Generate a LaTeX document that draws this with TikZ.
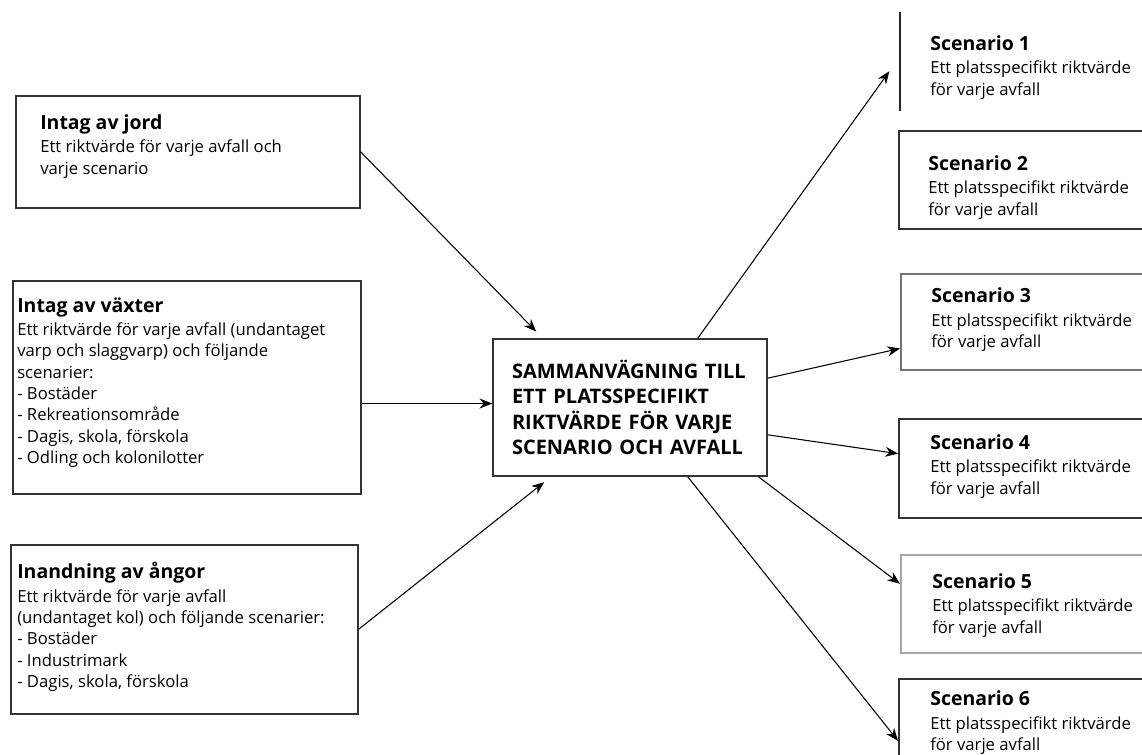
\documentclass[tikz,border=0pt]{standalone}
\usepackage{fontspec}
\setmainfont{Open Sans}
\usetikzlibrary{positioning, arrows.meta}

\newcommand{\boxhead}[1]{{\fontsize{14.6}{16}\selectfont\bfseries #1}\\[1.5pt]}

\begin{document}
\begin{tikzpicture}[x=0.75pt, y=-0.75pt,
  frame/.style={draw=black!80, line width=1.2pt, anchor=north west, inner sep=0pt},
  blurb/.style={align=left, inner sep=0pt, font=\fontsize{12.5}{16}\selectfont},
  arr/.style={-{Stealth[length=9.5pt,width=7.5pt]}, line width=0.8pt}]
\path[use as bounding box, clip] (0,0) rectangle (1142,754);

% Left box: Intag av jord
\node[frame, minimum width=258pt, minimum height=84pt] (jord) at (15,95) {};
\node[blurb, below right=14.5pt and 18.75pt of jord.north west] (jordtxt)
  {\boxhead{Intag av jord}Ett riktvärde för varje avfall och\\varje scenario};

% Left box: Intag av växter
\node[frame, minimum width=261pt, minimum height=159.75pt] (vaxt) at (12,280) {};
\node[blurb, below right=13pt and 3.75pt of vaxt.north west] (vaxttxt)
  {\boxhead{Intag av växter}Ett riktvärde för varje avfall (undantaget\\varp och slaggvarp) och följande\\scenarier:\\- Bostäder\\- Rekreationsområde\\- Dagis, skola, förskola\\- Odling och kolonilotter};

% Left box: Inandning av ångor
\node[frame, minimum width=260.25pt, minimum height=126.75pt] (angor) at (10,544) {};
\node[blurb, below right=13.75pt and 5.25pt of angor.north west] (angortxt)
  {\boxhead{Inandning av ångor}Ett riktvärde för varje avfall\\(undantaget kol) och följande scenarier:\\- Bostäder\\- Industrimark\\- Dagis, skola, förskola};

% Middle box
\node[draw=black!80, line width=1.2pt, inner sep=0pt, minimum width=205.5pt, minimum height=102.75pt,
  text width=177pt, align=left, font=\fontsize{15}{19}\selectfont\bfseries] (mid) at (630,407.5)
  {SAMMANVÄGNING TILL\\ETT PLATSSPECIFIKT\\RIKTVÄRDE FÖR VARJE\\SCENARIO OCH AVFALL};

% Scenario 1 (only the left edge shows)
\node[anchor=north west, inner sep=0pt, minimum width=225pt, minimum height=73.5pt] (s1) at (900,12) {};
\draw[black!85, line width=1.2pt] (s1.north west) -- (s1.south west);
\node[blurb, below right=17.5pt and 22.5pt of s1.north west] (s1txt)
  {\boxhead{Scenario 1}Ett platsspecifikt riktvärde\\för varje avfall};

% Scenario 2
\node[frame, minimum width=225pt, minimum height=73.5pt] (s2) at (898,130) {};
\node[blurb, below right=19pt and 22.5pt of s2.north west] (s2txt)
  {\boxhead{Scenario 2}Ett platsspecifikt riktvärde\\för varje avfall};

% Scenario 3
\node[frame, draw=black!55, minimum width=225pt, minimum height=72pt] (s3) at (900,273) {};
\node[blurb, below right=11pt and 23.25pt of s3.north west] (s3txt)
  {\boxhead{Scenario 3}Ett platsspecifikt riktvärde\\för varje avfall};

% Scenario 4
\node[frame, minimum width=225pt, minimum height=74.25pt] (s4) at (898,418) {};
\node[blurb, below right=12.25pt and 24pt of s4.north west] (s4txt)
  {\boxhead{Scenario 4}Ett platsspecifikt riktvärde\\för varje avfall};

% Scenario 5
\node[frame, draw=black!35, minimum width=225pt, minimum height=73.5pt] (s5) at (900,554) {};
\node[blurb, below right=14.5pt and 24pt of s5.north west] (s5txt)
  {\boxhead{Scenario 5}Ett platsspecifikt riktvärde\\för varje avfall};

% Scenario 6
\node[frame, minimum width=225pt, minimum height=75pt] (s6) at (898,678) {};
\node[blurb, below right=9.5pt and 24pt of s6.north west] (s6txt)
  {\boxhead{Scenario 6}Ett platsspecifikt riktvärde\\för varje avfall};

% Arrows into the middle box
\draw[arr] (jord.east) -- ([xshift=33pt, yshift=5pt]mid.north west);
\draw[arr] ([yshift=3pt]vaxt.east |- mid.west) -- ([yshift=3pt]mid.west);
\draw[arr] (angor.east) -- ([xshift=39pt, yshift=-4pt]mid.south west);

% Arrows out to the scenarios
\draw[arr] ([xshift=-52.5pt]mid.north east) -- ([xshift=-8pt, yshift=-7.5pt]s1.west);
\draw[arr] ([yshift=22pt]mid.east) -- ([yshift=-20pt]s3.west);
\draw[arr] ([yshift=-20.5pt]mid.east) -- ([yshift=11pt]s4.west);
\draw[arr] ([xshift=-7pt]mid.south east) -- ([yshift=15pt]s5.west);
\draw[arr] ([xshift=-60pt]mid.south east) -- ([yshift=-9pt]s6.west);
\end{tikzpicture}
\end{document}
